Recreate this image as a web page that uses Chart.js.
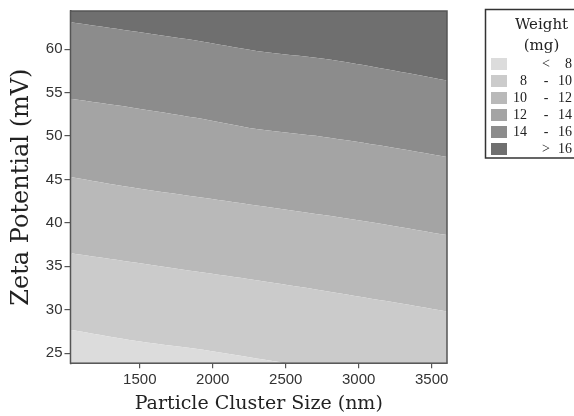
<!DOCTYPE html>
<html>
<head>
<meta charset="utf-8">
<script src="https://cdn.jsdelivr.net/npm/chart.js@4.4.0/dist/chart.umd.min.js"></script>
<style>
  html, body { margin: 0; padding: 0; background: #fff; overflow: hidden; }
</style>
</head>
<body>
<canvas id="chart" width="574" height="416"></canvas>
<script>
// particle cluster size (nm) sample positions along each contour line
const sizes = [1025, 1440, 1885, 2300, 2760, 3190, 3605];
// zeta potential (mV) of each weight contour at those sizes
const contour8  = [27.7, 26.5, 25.5, 24.4, 23.2, 22.0, 20.8];
const contour10 = [36.5, 35.5, 34.4, 33.4, 32.2, 31.0, 29.8];
const contour12 = [45.3, 44.1, 43.0, 42.0, 40.9, 39.8, 38.6];
const contour14 = [54.3, 53.3, 52.1, 50.8, 49.9, 48.8, 47.6];
const contour16 = [63.1, 62.1, 61.0, 59.8, 58.9, 57.7, 56.4];

const xTicks = [1500, 2000, 2500, 3000, 3500];
const yTicks = [25, 30, 35, 40, 45, 50, 55, 60];

const legendTitle = ['Weight', '(mg)'];
const bandLabels = [['', '<', '8'], ['8', '-', '10'], ['10', '-', '12'], ['12', '-', '14'], ['14', '-', '16'], ['', '>', '16']];
const bandColors = ['#dcdcdc', '#cbcbcb', '#b9b9b9', '#a4a4a4', '#8c8c8c', '#6f6f6f'];

const lines = [contour8, contour10, contour12, contour14, contour16, contour16];
const fills = ['start', '-1', '-1', '-1', '-1', 'end'];

const datasets = lines.map((ys, i) => ({
    label: bandLabels[i].join(' '),
    data: sizes.map((x, j) => ({x: x, y: ys[j]})),
    fill: fills[i],
    backgroundColor: bandColors[i],
    borderWidth: 0,
    pointRadius: 0,
    tension: 0.3
}));

// frame round the plot plus the boxed legend on the right
const boxPlugin = {
    id: 'box',
    afterDraw(chart) {
        const a = chart.chartArea, ctx = chart.ctx;
        ctx.save();
        ctx.strokeStyle = '#555';
        ctx.lineWidth = 1.5;
        ctx.strokeRect(a.left, a.top, a.right - a.left, a.bottom - a.top);

        // legend
        const lx = 485.5, ly = 9.5, lb = 158;
        ctx.strokeStyle = '#333';
        ctx.beginPath();
        ctx.moveTo(chart.width + 2, ly);
        ctx.lineTo(lx, ly);
        ctx.lineTo(lx, lb);
        ctx.lineTo(chart.width + 2, lb);
        ctx.stroke();

        ctx.fillStyle = '#222';
        ctx.textBaseline = 'middle';
        ctx.textAlign = 'center';
        ctx.font = '15px "DejaVu Serif"';
        ctx.fillText(legendTitle[0], 541.5, 25);
        ctx.fillText(legendTitle[1], 541.5, 46);

        ctx.font = '14px "Liberation Serif"';
        bandLabels.forEach((lab, i) => {
            const cy = 64 + i * 17;
            ctx.fillStyle = bandColors[i];
            ctx.fillRect(491, cy - 6, 16, 12);
            ctx.fillStyle = '#222';
            ctx.textAlign = 'right';
            ctx.fillText(lab[0], 527, cy);
            ctx.textAlign = 'center';
            ctx.fillText(lab[1], 546, cy);
            ctx.textAlign = 'right';
            ctx.fillText(lab[2], 572, cy);
        });
        ctx.restore();
    }
};

const tickFont = {family: 'Liberation Sans', size: 15};

new Chart(document.getElementById('chart'), {
    type: 'line',
    data: {datasets: datasets},
    options: {
        responsive: false,
        animation: false,
        layout: {padding: {top: 10, right: 127, left: 7, bottom: 0}},
        plugins: {legend: {display: false}, tooltip: {enabled: false}},
        scales: {
            x: {
                type: 'linear', min: 1025, max: 3605,
                afterBuildTicks: axis => { axis.ticks = xTicks.map(v => ({value: v})); },
                grid: {drawOnChartArea: false, tickLength: 5, color: '#555', lineWidth: 1.2},
                border: {color: '#555', width: 1.5},
                ticks: {font: tickFont, color: '#333', padding: 3, maxRotation: 0, callback: v => String(v)},
                title: {display: true, text: 'Particle Cluster Size (nm)', color: '#222',
                        font: {family: 'DejaVu Serif', size: 19}, padding: {top: 0, bottom: 1}}
            },
            y: {
                type: 'linear', min: 23.85, max: 64.4,
                afterBuildTicks: axis => { axis.ticks = yTicks.map(v => ({value: v})); },
                grid: {drawOnChartArea: false, tickLength: 6, color: '#555', lineWidth: 1.2},
                border: {color: '#555', width: 1.5},
                ticks: {font: tickFont, color: '#333', padding: 2, callback: v => String(v)},
                title: {display: true, text: 'Zeta Potential (mV)', color: '#222',
                        font: {family: 'DejaVu Serif', size: 24}, padding: {top: 0, bottom: 8}}
            }
        }
    },
    plugins: [boxPlugin]
});
</script>
</body>
</html>
